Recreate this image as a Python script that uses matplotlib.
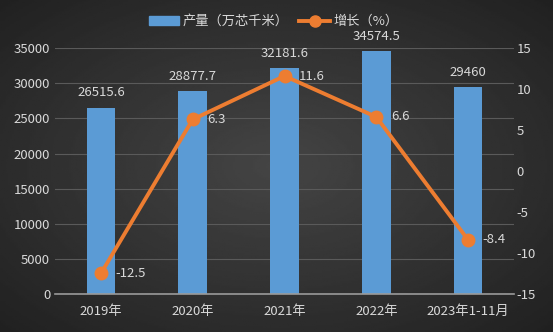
import numpy as np
import matplotlib.pyplot as plt
from matplotlib.lines import Line2D
from matplotlib.patches import Patch

plt.rcParams['font.family'] = ['Noto Sans CJK SC', 'DejaVu Sans']
plt.rcParams['axes.unicode_minus'] = False

# data
years = ["2019年", "2020年", "2021年", "2022年", "2023年1-11月"]
output = [26515.6, 28877.7, 32181.6, 34574.5, 29460]
output_labels = ["26515.6", "28877.7", "32181.6", "34574.5", "29460"]
growth = [-12.5, 6.3, 11.6, 6.6, -8.4]

TEXT = "#d9d9d9"
BAR = "#5b9bd5"
LINE = "#ed7d31"

fig = plt.figure(figsize=(5.53, 3.32), dpi=100)

# dark radial background
bg = fig.add_axes([0, 0, 1, 1], zorder=-10)
yy, xx = np.mgrid[-1:1:200j, -1:1:300j]
r = np.sqrt(xx ** 2 + yy ** 2)
bg.imshow(0.27 - 0.10 * r, cmap="gray", vmin=0, vmax=1, aspect="auto",
          extent=[0, 1, 0, 1])
bg.axis("off")

ax = fig.add_axes([0.0995, 0.1145, 0.83, 0.7405])
ax.patch.set_alpha(0)
x = np.arange(len(years))
bars = ax.bar(x, output, width=0.31, color=BAR, zorder=2)
ax.set_ylim(0, 35000)
ax.set_yticks(range(0, 35001, 5000))
ax.set_xlim(-0.5, len(years) - 0.5)
ax.set_xticks(x)
ax.set_xticklabels(years)
ax.grid(axis="y", color="#5a5a5a", linewidth=0.8, zorder=0)
for s in ["top", "right", "left"]:
    ax.spines[s].set_visible(False)
ax.spines["bottom"].set_color("#9a9a9a")
ax.spines["bottom"].set_linewidth(1.2)
ax.tick_params(length=0, colors=TEXT, labelsize=9.5)
ax.tick_params(axis="x", pad=8)

for xi, v, lab in zip(x, output, output_labels):
    ax.text(xi, v + 1200, lab, ha="center", va="bottom", color=TEXT, fontsize=9.5)

ax2 = ax.twinx()
ax2.plot(x, growth, color=LINE, linewidth=2.8, marker="o", markersize=9, zorder=3)
ax2.set_ylim(-15, 15)
ax2.set_yticks(range(-15, 16, 5))
for s in ax2.spines.values():
    s.set_visible(False)
ax2.tick_params(length=0, colors=TEXT, labelsize=9.5, pad=2)

for xi, g in zip(x, growth):
    ax2.text(xi + 0.16, g, f"{g:g}", ha="left", va="center", color=TEXT, fontsize=9.5)

handles = [Patch(color=BAR),
           Line2D([], [], color=LINE, linewidth=2.8, marker="o", markersize=8)]
fig.legend(handles, ["产量（万芯千米）", "增长（%）"], loc="upper center",
           bbox_to_anchor=(0.495, 0.99), ncol=2, frameon=False,
           labelcolor=TEXT, fontsize=9.5, handlelength=2.3, columnspacing=0.8,
           handletextpad=0.3)

fig.savefig("out.png", dpi=100)
